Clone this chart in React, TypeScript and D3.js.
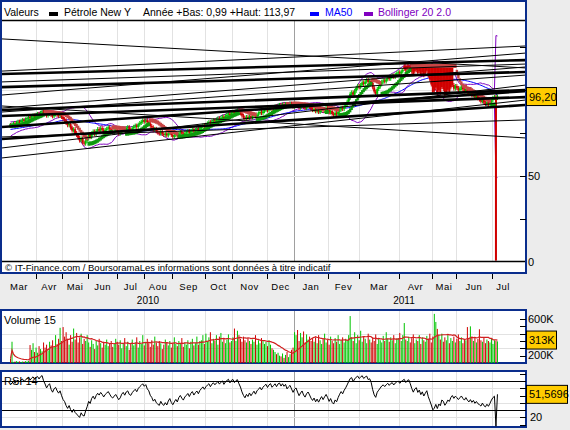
import React from 'react';
import * as d3 from 'd3';

const W = 570;
const H = 430;
const FONT = '"Liberation Sans", Arial, sans-serif';
const NAVY = '#0a2d8c';

// closes before the first drawn bar (only used to seed the indicators)
const priorCloses = [73.6, 72.9, 74.1, 74.8, 74.2, 75.5, 76.2, 75.6, 76.9, 77.6, 77.0, 78.2, 77.5, 78.7, 79.4, 78.9, 79.6, 79.0, 80.3, 79.6];

// daily closes, Feb 2010 -> Jul 2011
const closes = [
  79.2, 79.8, 80.5, 80.1, 81.0, 81.6, 81.3, 82.1, 82.5, 82.0,
  82.9, 83.4, 84.1, 83.6, 84.5, 85.2, 84.8, 85.6, 86.1, 85.7,
  86.8, 87.4, 86.5, 85.9, 85.1, 86.0, 86.6, 85.4, 84.7, 85.8,
  86.3, 85.5, 84.9, 85.6, 84.3, 83.1, 82.4, 80.8, 79.5, 80.2,
  78.1, 76.4, 77.2, 75.0, 73.8, 72.2, 70.6, 71.9, 69.5, 68.8,
  70.4, 71.8, 73.9, 72.6, 74.8, 75.9, 74.3, 76.1, 77.3, 76.4,
  77.8, 76.9, 75.6, 76.8, 77.5, 78.3, 77.2, 76.0, 75.4, 76.2,
  76.9, 75.8, 74.6, 75.3, 76.8, 77.6, 76.5, 77.9, 78.4, 77.1,
  76.7, 77.8, 78.6, 79.3, 78.5, 79.9, 80.8, 81.5, 82.3, 81.6,
  82.4, 81.2, 80.6, 79.1, 78.3, 76.8, 77.4, 75.9, 75.2, 74.6,
  75.8, 74.5, 73.9, 74.7, 73.6, 74.8, 75.6, 73.9, 72.8, 73.7,
  74.5, 73.4, 74.9, 75.7, 74.6, 73.8, 74.9, 75.5, 76.2, 75.1,
  76.3, 77.0, 75.8, 76.7, 77.4, 76.5, 77.8, 78.6, 79.4, 78.7,
  79.8, 80.6, 81.3, 80.5, 81.7, 82.4, 81.9, 82.8, 83.5, 82.9,
  83.8, 84.5, 83.7, 84.9, 85.6, 86.3, 85.5, 86.8, 87.3, 86.6,
  87.6, 88.1, 87.2, 86.4, 85.1, 84.0, 83.2, 84.3, 83.6, 84.8,
  83.9, 84.7, 85.5, 84.6, 85.8, 86.4, 87.2, 86.5, 87.6, 88.3,
  88.9, 88.1, 89.2, 89.8, 88.9, 89.6, 90.4, 89.7, 90.9, 91.3,
  90.6, 91.6, 91.0, 91.8, 90.7, 91.5, 92.1, 91.2, 90.3, 91.4,
  91.9, 90.8, 89.7, 90.6, 91.3, 90.1, 89.4, 90.5, 91.1, 90.2,
  89.1, 88.3, 89.0, 87.6, 88.4, 87.2, 88.1, 88.9, 87.8, 88.7,
  89.5, 88.4, 86.9, 87.8, 86.2, 85.4, 86.7, 85.9, 87.3, 88.6,
  89.7, 88.9, 90.4, 91.6, 93.2, 95.4, 97.8, 98.6, 97.3, 99.5,
  101.2, 102.4, 101.6, 103.0, 104.4, 103.5, 104.9, 105.8, 104.7, 105.4,
  104.2, 101.5, 99.1, 97.8, 100.6, 101.9, 103.3, 104.8, 105.6, 104.9,
  106.2, 107.3, 106.5, 107.8, 108.4, 107.6, 108.9, 109.7, 110.3, 109.6,
  110.8, 111.6, 112.3, 111.4, 112.7, 113.2, 112.1, 110.6, 109.3, 110.8,
  111.5, 109.8, 110.9, 109.1, 110.4, 108.6, 109.9, 111.2, 108.4, 106.1,
  103.2, 98.8, 99.6, 101.4, 97.5, 99.9, 98.3, 101.7, 100.6, 96.9,
  98.2, 100.1, 99.0, 101.5, 102.9, 100.8, 102.3, 101.2, 99.8, 100.9,
  102.0, 100.4, 99.2, 100.6, 98.9, 97.6, 98.8, 96.9, 97.9, 95.8,
  96.7, 95.1, 94.4, 93.3, 94.6, 92.7, 91.8, 92.9, 91.4, 92.6,
  94.1, 95.3, 96.0, 0.99, 96.2,
];

// the feed kept the open stuck at the yearly high for these sessions
const frozenOpen = { from: 262, to: 294, value: 113.97 };
const openOverrides: Record<number, number> = { 324: 95.3 };

// volumes in thousands
const volumes = [
  60, 290, 15, 20, 25, 18, 22, 15, 20, 18, 25, 20, 30,
  245, 180, 270, 150, 210, 140, 230, 190, 160, 280, 210, 250, 170,
  290, 240, 310, 220, 380, 260, 330, 480, 300, 490, 360, 420,
  330, 250, 380, 290, 470, 320, 410, 280, 350, 400, 260, 330, 300, 380,
  280, 220, 310, 260, 190, 300, 240, 330, 270, 210, 290, 250, 320, 230, 270, 300, 220, 260, 330, 290,
  250, 310, 200, 270, 340, 230, 290, 180, 260, 320, 240, 280, 350, 210, 300, 260, 380, 240, 290, 330,
  270, 220, 310, 250, 360, 280, 230, 300, 270, 190, 250, 320, 280, 240, 300, 210, 270, 350, 260,
  230, 300, 260, 340, 220, 280, 250, 310, 200, 290, 330, 240, 270, 360, 250, 300,
  310, 380, 260, 400, 290, 350, 420, 270, 330, 300, 380, 250, 360, 410, 290, 340, 270, 320, 390, 280, 300,
  350, 470, 300, 440, 380, 330, 290, 360, 310, 280, 340, 300, 260,
  320, 290, 380, 250, 310, 270, 340, 300, 260, 290, 230, 310, 250, 200, 180, 150, 120, 140, 100,
  90, 130, 70, 110, 150, 80, 120, 180, 210,
  420, 380, 450, 300, 410, 350, 430, 280, 390, 320, 360, 300, 340,
  290, 350, 270, 380, 310, 260, 330, 400, 280, 320, 250, 360, 300, 270, 340, 290, 380, 260, 310, 350, 280, 330, 300,
  380, 640,
  350, 300, 420, 270, 380, 310, 440, 290, 360, 330, 270, 400, 320, 280, 350, 300, 390, 260, 340, 310, 280, 370, 300, 420, 330, 290, 350, 310, 380, 270, 330,
  340, 410, 300, 380, 545, 320,
  300, 360, 280, 340, 390, 270, 320, 300, 380, 260, 350, 310, 290, 370, 330, 400, 280, 360, 670, 560,
  465, 380, 320, 400, 290, 350, 310, 380, 270, 340, 300, 360, 280, 330, 390, 300, 350, 270, 320, 310, 490, 340,
  500, 360, 300, 340, 280, 330, 460, 310, 290, 350, 270, 320, 300, 280, 340, 260, 310, 300, 295,
];

// bar index where each month starts (gridlines / ticks)
const monthStarts = [17, 34.3, 51.6, 70.9, 88.8, 107.5, 129.4, 147.4, 170.7, 188.6, 211.2, 231.9, 258.5, 280.4, 296.4, 320.4];
const monthLabels = ['Mar', 'Avr', 'Mai', 'Jun', 'Jul', 'Aou', 'Sep', 'Oct', 'Nov', 'Dec', 'Jan', 'Fev', 'Mar', 'Avr', 'Mai', 'Jun', 'Jul'];
const yearStart = 188.6;
const yearLabels = ['2010', '2011'];
const axisStart = -5.66;
const axisEnd = 343;
const labelEnd = 335;

// drawn trend lines: price at left edge, price at right edge, thick?
const trendLines: [number, number, boolean][] = [
  [129.7, 112.8, false],
  [111.0, 125.6, false],
  [109.3, 117.4, true],
  [104.7, 115.1, false],
  [101.7, 110.5, true],
  [89.5, 113.4, false],
  [88.4, 100.0, true],
  [87.2, 108.7, false],
  [84.9, 95.9, true],
  [78.5, 99.4, true],
  [72.7, 82.6, false],
  [71.5, 91.3, true],
  [66.3, 102.9, false],
  [60.5, 94.2, false],
  [90.7, 72.1, false],
  [97.1, 121.5, false],
];

const lastRsi = 51.5696;
const lastVolMa = 313;

const fmt = (v: number, d: number) => v.toFixed(d).replace('.', ',');

export default function App() {
  const bars = closes.map((c, i) => {
    let o = i === 0 ? priorCloses[priorCloses.length - 1] : closes[i - 1];
    if (i >= frozenOpen.from && i <= frozenOpen.to) o = frozenOpen.value;
    if (openOverrides[i] != null) o = openOverrides[i];
    return { i, o, c, h: Math.max(o, c), l: Math.min(o, c) };
  });

  const all = [...priorCloses, ...closes];
  const P = priorCloses.length;

  const boll = closes.map((_, i) => {
    const j = i + P;
    const w = all.slice(Math.max(0, j - 19), j + 1);
    const m = d3.mean(w) as number;
    const sd = Math.sqrt(d3.mean(w, (v) => (v - m) * (v - m)) as number);
    return { i, up: m + 2 * sd, lo: m - 2 * sd };
  });
  const ma50 = closes.map((_, i) => {
    const j = i + P;
    return { i, v: d3.mean(all.slice(Math.max(0, j - 49), j + 1)) as number };
  });

  // RSI 14 (Wilder)
  const rsiAll: number[] = [];
  let ag = 0;
  let al = 0;
  for (let j = 1; j < all.length; j++) {
    const d = all[j] - all[j - 1];
    const g = Math.max(d, 0);
    const l = Math.max(-d, 0);
    if (j <= 14) {
      ag += g / 14;
      al += l / 14;
    } else {
      ag = (ag * 13 + g) / 14;
      al = (al * 13 + l) / 14;
    }
    if (j >= 14) rsiAll[j] = al === 0 ? 100 : 100 - 100 / (1 + ag / al);
  }
  const rsi = closes.map((_, i) => ({ i, v: rsiAll[i + P] }));

  // parabolic SAR, bad ticks at the end left out
  const sarBars = bars.slice(0, 323);
  const sar: { i: number; v: number; up: boolean }[] = [];
  let up = true;
  let s = sarBars[0].l;
  let ep = sarBars[0].h;
  let af = 0.02;
  sar.push({ i: 0, v: s, up });
  for (let i = 1; i < sarBars.length; i++) {
    const b = sarBars[i];
    s = s + af * (ep - s);
    if (up) {
      s = Math.min(s, sarBars[i - 1].l, sarBars[Math.max(0, i - 2)].l);
      if (b.l < s) {
        up = false; s = ep; ep = b.l; af = 0.02;
      } else if (b.h > ep) {
        ep = b.h; af = Math.min(af + 0.02, 0.2);
      }
    } else {
      s = Math.max(s, sarBars[i - 1].h, sarBars[Math.max(0, i - 2)].h);
      if (b.h > s) {
        up = true; s = ep; ep = b.h; af = 0.02;
      } else if (b.l < ep) {
        ep = b.l; af = Math.min(af + 0.02, 0.2);
      }
    }
    sar.push({ i, v: s, up });
  }

  const volMa = volumes.map((_, i) => ({ i, v: d3.mean(volumes.slice(Math.max(0, i - 14), i + 1)) as number }));

  // scales
  const x = d3.scaleLinear().domain([axisStart, axisEnd]).range([2, 526]);
  const y = d3.scaleLinear().domain([0, 50]).range([262, 176]);
  const vy = d3.scaleLinear().domain([0, 600]).range([363, 319]);
  const ry = d3.scaleLinear().domain([30, 70]).range([410, 381]);

  const lineP = d3.line<{ i: number; v: number }>().x((d) => x(d.i)).y((d) => y(d.v));
  const upLine = d3.line<{ i: number; up: number }>().x((d) => x(d.i)).y((d) => y(d.up));
  const loLine = d3.line<{ i: number; lo: number }>().x((d) => x(d.i)).y((d) => y(d.lo));
  const volLine = d3.line<{ i: number; v: number }>().x((d) => x(d.i)).y((d) => vy(d.v));
  const rsiLine = d3.line<{ i: number; v: number }>().x((d) => x(d.i)).y((d) => ry(d.v));

  const lo = d3.min(bars, (b) => b.l) as number;
  const hi = d3.max(bars, (b) => b.h) as number;
  const last = closes[closes.length - 1];

  const bounds = [axisStart, ...monthStarts, labelEnd];
  const monthPos = monthLabels.map((m, k) => ({ m, p: (bounds[k] + bounds[k + 1]) / 2 }));
  const yearPos = [(axisStart + yearStart) / 2, (yearStart + labelEnd) / 2];

  const vGrid = (top: number, bottom: number) =>
    monthStarts.map((m, k) => (
      <line key={k} x1={Math.round(x(m)) + 0.5} x2={Math.round(x(m)) + 0.5} y1={top} y2={bottom}
        stroke={m === yearStart ? '#a0a0a0' : '#e2e2e2'} />
    ));

  const rightTicks = (vals: number[], sc: (v: number) => number) =>
    vals.map((v) => (
      <line key={v} x1={520} x2={526} y1={Math.round(sc(v)) + 0.5} y2={Math.round(sc(v)) + 0.5} stroke="#000" />
    ));

  const box = (label: string, cy: number, w: number) => (
    <g>
      <rect x={526.5} y={cy - 9} width={w} height={18} fill="#ffcc00" stroke="#000" />
      <text x={529} y={cy + 4} fontSize={11}>{label}</text>
    </g>
  );

  return (
    <div style={{ width: W, height: H }}>
      <style>{'body{margin:0}'}</style>
      <svg width={W} height={H} style={{ display: 'block', fontFamily: FONT }}>
        <defs>
          <clipPath id="mainClip"><rect x={2} y={21} width={523} height={240} /></clipPath>
          <clipPath id="volClip"><rect x={2} y={311} width={523} height={52} /></clipPath>
          <clipPath id="rsiClip"><rect x={2} y={372} width={523} height={55} /></clipPath>
        </defs>
        <rect width={W} height={H} fill="#ececec" />

        {/* ---------- price panel ---------- */}
        <rect x={1} y={1} width={525} height={272} fill="#fff" stroke={NAVY} strokeWidth={2} />
        {vGrid(21, 261)}
        {[50, 100].map((v) => (
          <line key={v} x1={2} x2={525} y1={Math.round(y(v)) + 0.5} y2={Math.round(y(v)) + 0.5} stroke="#e2e2e2" />
        ))}

        <g clipPath="url(#mainClip)">
          <path d={upLine(boll) as string} fill="none" stroke="#8000c0" />
          <path d={loLine(boll) as string} fill="none" stroke="#8000c0" />
          <path d={lineP(ma50) as string} fill="none" stroke="#0000ff" />
          {bars.map((b) => {
            const col = b.c >= b.o ? '#00c400' : '#d00000';
            const t = y(b.h);
            const bt = y(b.l);
            const cx = x(b.i);
            return (
              <g key={b.i}>
                <line x1={cx} x2={cx} y1={t - 2} y2={bt + 2} stroke={col} strokeWidth={1} />
                <rect x={cx - 1} y={t} width={2} height={Math.max(1, bt - t)} fill={col} />
              </g>
            );
          })}
          {sar.map((d) => (
            <rect key={d.i} x={x(d.i) - 1.2} y={y(d.v) - 2} width={2.4} height={4}
              fill={d.up ? '#0e9a0e' : '#c84646'} />
          ))}
          {trendLines.map(([a, b, thick], k) => (
            <line key={k} x1={x(axisStart)} x2={x(axisEnd)} y1={y(a)} y2={y(b)}
              stroke="#000" strokeWidth={thick ? 2.6 : 1} />
          ))}
        </g>

        {/* header */}
        <line x1={2} x2={525} y1={20.5} y2={20.5} stroke="#000" strokeWidth={1.5} />
        <g fontSize={10.5}>
          <text x={4} y={16}>Valeurs</text>
          <rect x={49} y={12} width={9} height={4} fill="#000" />
          <text x={64} y={16}>Pétrole New Y</text>
          <text x={143} y={16}>{`Année +Bas: ${fmt(lo, 2)} +Haut: ${fmt(hi, 2)}`}</text>
          <rect x={310} y={12} width={9} height={4} fill="#0000ff" />
          <text x={325} y={16} fill="#0000ff">MA50</text>
          <rect x={364} y={12} width={9} height={4} fill="#8000c0" />
          <text x={378} y={16} fill="#8000c0">Bollinger 20 2.0</text>
        </g>

        {/* footer */}
        <line x1={2} x2={525} y1={261.5} y2={261.5} stroke="#000" strokeWidth={1.5} />
        <text x={5} y={271} fontSize={9.5}>© IT-Finance.com / BoursoramaLes informations sont données à titre indicatif</text>

        {rightTicks([25, 50, 75, 100, 125], y)}
        {[0, 50].map((v) => (
          <text key={v} x={528} y={y(v) + 4} fontSize={11}>{v}</text>
        ))}
        {box(fmt(last, 2), y(last), 30)}

        {/* time axis */}
        {monthStarts.map((m, k) => (
          <line key={k} x1={Math.round(x(m)) + 0.5} x2={Math.round(x(m)) + 0.5} y1={274} y2={279} stroke="#000" />
        ))}
        {monthPos.map((d, k) => (
          <text key={k} x={x(d.p)} y={290} fontSize={9.5} textAnchor="middle" letterSpacing={0.5}>{d.m}</text>
        ))}
        {yearLabels.map((t, k) => (
          <text key={t} x={x(yearPos[k])} y={304} fontSize={10} textAnchor="middle">{t}</text>
        ))}

        {/* ---------- volume panel ---------- */}
        <rect x={1} y={310} width={525} height={53} fill="#fff" stroke={NAVY} strokeWidth={2} />
        {vGrid(311, 362)}
        {[200, 400].map((v) => (
          <line key={v} x1={2} x2={525} y1={Math.round(vy(v)) + 0.5} y2={Math.round(vy(v)) + 0.5} stroke="#e2e2e2" />
        ))}
        <text x={4} y={324} fontSize={11}>Volume 15</text>
        <g clipPath="url(#volClip)">
          {volumes.map((v, i) => {
            const prev = i === 0 ? priorCloses[priorCloses.length - 1] : closes[i - 1];
            return (
              <rect key={i} x={x(i) - 0.5} y={vy(v)} width={1} height={vy(0) - vy(v)}
                fill={closes[i] >= prev ? '#00c400' : '#d00000'} />
            );
          })}
          <path d={volLine(volMa) as string} fill="none" stroke="#d02020" strokeWidth={1.2} />
        </g>
        {rightTicks([100, 200, 300, 400, 500, 600], vy)}
        <text x={528} y={vy(600) + 4} fontSize={11}>600K</text>
        <text x={528} y={359} fontSize={11}>200K</text>
        {box(`${lastVolMa}K`, vy(lastVolMa), 30)}

        {/* ---------- RSI panel ---------- */}
        <rect x={1} y={371} width={525} height={56} fill="#fff" stroke={NAVY} strokeWidth={2} />
        {vGrid(372, 426)}
        {[20, 40, 60].map((v) => (
          <line key={v} x1={2} x2={525} y1={Math.round(ry(v)) + 0.5} y2={Math.round(ry(v)) + 0.5} stroke="#e2e2e2" />
        ))}
        <text x={4} y={385} fontSize={11}>RSI 14</text>
        {[30, 70].map((v) => (
          <line key={v} x1={2} x2={525} y1={Math.round(ry(v)) + 0.5} y2={Math.round(ry(v)) + 0.5} stroke="#000" strokeWidth={1.2} />
        ))}
        <g clipPath="url(#rsiClip)">
          <path d={rsiLine(rsi) as string} fill="none" stroke="#000" strokeWidth={1} />
        </g>
        {rightTicks([10, 20, 30, 40, 50, 60, 70, 80], ry)}
        <text x={530} y={ry(20) + 4} fontSize={11}>20</text>
        {box(fmt(lastRsi, 4), ry(lastRsi), 41)}
      </svg>
    </div>
  );
}
